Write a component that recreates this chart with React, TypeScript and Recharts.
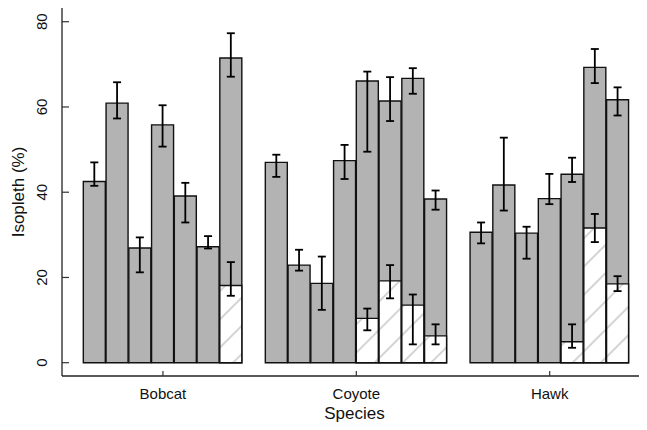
import React from 'react';
import { BarChart, Bar, XAxis, YAxis, ErrorBar } from 'recharts';

// ---- data ----
const species = ['Bobcat', 'Coyote', 'Hawk'];

const bobcatTotal = [42.5, 60.9, 26.9, 55.8, 39.1, 27.2, 71.5];
const bobcatTotalLow = [41.5, 57.3, 21.2, 50.7, 32.9, 26.8, 67.1];
const bobcatTotalHigh = [47.0, 65.8, 29.4, 60.4, 42.2, 29.7, 77.3];
const bobcatHatch = [null, null, null, null, null, null, 18.1];
const bobcatHatchLow = [null, null, null, null, null, null, 15.7];
const bobcatHatchHigh = [null, null, null, null, null, null, 23.6];

const coyoteTotal = [47.0, 22.9, 18.6, 47.4, 66.1, 61.4, 66.7, 38.4];
const coyoteTotalLow = [43.6, 21.6, 12.4, 43.1, 49.5, 56.7, 63.1, 35.9];
const coyoteTotalHigh = [48.8, 26.5, 24.9, 51.1, 68.3, 67.0, 69.1, 40.4];
const coyoteHatch = [null, null, null, null, 10.4, 19.2, 13.5, 6.3];
const coyoteHatchLow = [null, null, null, null, 7.6, 15.1, 4.3, 4.3];
const coyoteHatchHigh = [null, null, null, null, 12.7, 22.9, 16.0, 9.0];

const hawkTotal = [30.6, 41.7, 30.4, 38.5, 44.2, 69.3, 61.7];
const hawkTotalLow = [28.0, 35.7, 24.4, 37.2, 42.4, 65.6, 58.0];
const hawkTotalHigh = [32.9, 52.8, 31.9, 44.3, 48.1, 73.6, 64.6];
const hawkHatch = [null, null, null, null, 4.9, 31.6, 18.5];
const hawkHatchLow = [null, null, null, null, 3.5, 28.3, 16.8];
const hawkHatchHigh = [null, null, null, null, 9.0, 34.9, 20.3];

const yTicks = [0, 20, 40, 60, 80];

// ---- build table for the library ----
type Num = number | null;
const groups: { total: number[]; tl: number[]; th: number[]; h: Num[]; hl: Num[]; hh: Num[] }[] = [
  { total: bobcatTotal, tl: bobcatTotalLow, th: bobcatTotalHigh, h: bobcatHatch, hl: bobcatHatchLow, hh: bobcatHatchHigh },
  { total: coyoteTotal, tl: coyoteTotalLow, th: coyoteTotalHigh, h: coyoteHatch, hl: coyoteHatchLow, hh: coyoteHatchHigh },
  { total: hawkTotal, tl: hawkTotalLow, th: hawkTotalHigh, h: hawkHatch, hl: hawkHatchLow, hh: hawkHatchHigh },
];

const rows: any[] = [];
const groupTicks: number[] = [];
let slot = 0;
groups.forEach((g) => {
  const start = slot;
  g.total.forEach((t, i) => {
    const h = g.h[i];
    rows.push({
      slot,
      total: t,
      totalErr: [t - g.tl[i], g.th[i] - t],
      hatch: h,
      hatchErr: h == null ? null : [h - (g.hl[i] as number), (g.hh[i] as number) - h],
    });
    slot++;
  });
  groupTicks.push((start + slot - 1) / 2);
  slot++; // empty slot between groups
});

const FONT = '"Liberation Sans", Arial, Helvetica, sans-serif';
const INK = '#111';

const XTick = (props: any) => {
  const { x, y, payload } = props;
  const idx = groupTicks.indexOf(payload.value);
  return (
    <g>
      <line x1={x} y1={y} x2={x} y2={y - 5} stroke="#333" strokeWidth={1.2} />
      <text x={x} y={y + 23} textAnchor="middle" fontSize={15} fill={INK} fontFamily={FONT}>
        {species[idx]}
      </text>
    </g>
  );
};

const YTick = (props: any) => {
  const { x, y, payload } = props;
  const tx = x - 15;
  return (
    <g>
      <line x1={x} y1={y} x2={x + 7} y2={y} stroke="#333" strokeWidth={1.2} />
      <text
        x={tx}
        y={y}
        textAnchor="middle"
        fontSize={15}
        fill={INK}
        fontFamily={FONT}
        transform={`rotate(-90, ${tx}, ${y})`}
      >
        {payload.value}
      </text>
    </g>
  );
};

export default function App() {
  return (
    <div style={{ width: 639, height: 414 }}>
      <BarChart
        width={639}
        height={414}
        data={rows}
        margin={{ top: 0, right: 0, bottom: 0, left: 0 }}
        barCategoryGap={0}
        barGap={-22}
      >
        <defs>
          <pattern id="hatch" patternUnits="userSpaceOnUse" width="20" height="20" patternTransform="rotate(45)">
            <rect x="0" y="0" width="20" height="20" fill="#ffffff" />
            <line x1="10" y1="0" x2="10" y2="20" stroke="#bdbdbd" strokeWidth={1.3} />
          </pattern>
        </defs>
        <XAxis
          dataKey="slot"
          type="number"
          domain={[-1.437, 24.277]}
          allowDataOverflow
          ticks={groupTicks}
          interval={0}
          height={46}
          tickSize={0}
          tickMargin={0}
          tickLine={false}
          axisLine={{ stroke: '#222', strokeWidth: 1.3 }}
          tick={<XTick />}
          label={{ value: 'Species', position: 'insideBottom', offset: 3, fontSize: 17, fill: INK, fontFamily: FONT }}
        />
        <YAxis
          type="number"
          domain={[-3.12, 83.22]}
          allowDataOverflow
          ticks={yTicks}
          interval={0}
          width={54}
          tickSize={0}
          tickMargin={0}
          tickLine={false}
          axisLine={{ stroke: '#222', strokeWidth: 1.3 }}
          tick={<YTick />}
          label={{
            value: 'Isopleth (%)',
            angle: -90,
            position: 'insideLeft',
            offset: 10,
            fontSize: 17,
            fill: INK,
            fontFamily: FONT,
            style: { textAnchor: 'middle' },
          }}
        />
        <Bar dataKey="total" fill="#b3b3b3" stroke={INK} strokeWidth={1.4} isAnimationActive={false}>
          <ErrorBar dataKey="totalErr" direction="y" width={4} stroke="#000" strokeWidth={1.8} />
        </Bar>
        <Bar dataKey="hatch" fill="url(#hatch)" stroke={INK} strokeWidth={1.4} isAnimationActive={false}>
          <ErrorBar dataKey="hatchErr" direction="y" width={4} stroke="#000" strokeWidth={1.8} />
        </Bar>
      </BarChart>
    </div>
  );
}
